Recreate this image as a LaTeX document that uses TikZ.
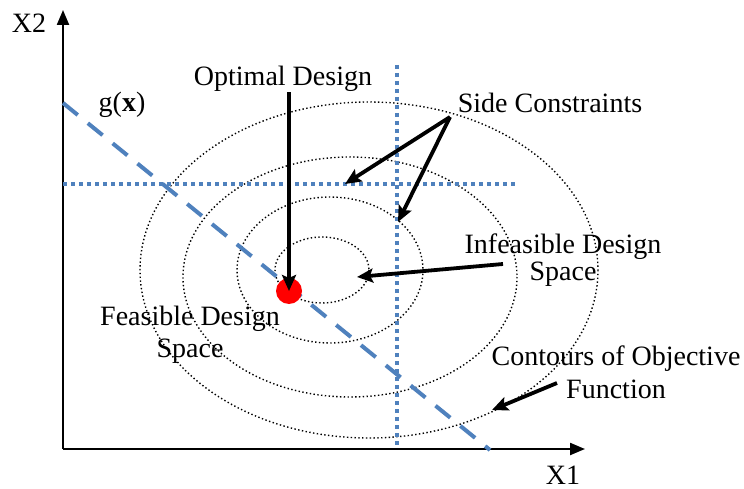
\documentclass[tikz,border=0pt]{standalone}
\usepackage{fontspec}
\setmainfont{Liberation Serif}
\usetikzlibrary{arrows.meta}
\definecolor{cblue}{RGB}{79,129,189}

\begin{document}
\begin{tikzpicture}[x=1pt,y=-1pt,
  lbl/.style={inner sep=0pt,anchor=base,align=center,font=\fontsize{28}{32}\selectfont},
  axis/.style={line width=2.2pt,-{Triangle[length=15pt,width=12pt]}},
  pointer/.style={line width=3.8pt,-{Stealth[length=16pt,width=14pt,inset=3pt]}},
  contour/.style={line width=1.4pt,dash pattern=on 1.4pt off 2.4pt},
  sidebound/.style={cblue,line width=4pt,dash pattern=on 4pt off 4pt},
  gbound/.style={cblue,line width=4pt,dash pattern=on 19pt off 13pt}]
  \useasboundingbox (0,0) rectangle (744,489);
  % osy
  \coordinate (o) at (63,449); \coordinate (ytop) at (63,10); \coordinate (xend) at (585,449);
  \draw[axis] (o)--(ytop); \draw[axis] (o)--(xend);
  \node[lbl] (x2) at (29,33) {X2};
  \node[lbl] (x1) at (563,484) {X1};
  % vrstevnice ucelove funkce
  \foreach \cx/\cy/\rx/\ry in {322/270/47/33,330/270/93/73,350/277/167/120,369/270/229/168}
    {\draw[contour] (\cx,\cy) ellipse [x radius=\rx,y radius=\ry];}
  % omezeni
  \coordinate (g1) at (63,103); \coordinate (g2) at (490,450);
  \draw[gbound] (g1)--(g2);
  \coordinate (h1) at (63,184); \coordinate (h2) at (517,184);
  \coordinate (v1) at (397,65); \coordinate (v2) at (397,447);
  \draw[sidebound] (h1)--(h2); \draw[sidebound] (v1)--(v2);
  \node[circle,fill=red,minimum size=26pt,inner sep=0pt] (dot) at (289,291) {};
  % popisky (u viceradkovych je base na poslednim radku)
  \node[lbl] (gx) at (122,112) {g(\textbf{x})};
  \node[lbl] (optimal) at (283,86) {Optimal Design};
  \node[lbl] (side) at (550,113) {Side Constraints};
  \node[lbl] (infeas) at (563,280) {Infeasible Design\\[-5pt]Space};
  \node[lbl] (feas) at (190,357) {Feasible Design\\Space};
  \node[lbl] (contours) at (616,398) {Contours of Objective\\[1pt]Function};
  % sipky
  \coordinate (sc) at (450,117); \coordinate (sch) at (345,184); \coordinate (scv) at (398,222);
  \coordinate (inf) at (503,264); \coordinate (infc) at (357,277);
  \coordinate (ct) at (557,383); \coordinate (ctc) at (492,410);
  \draw[pointer] (optimal.south -| dot)--(dot.center);
  \draw[pointer] (sc)--(sch); \draw[pointer] (sc)--(scv);
  \draw[pointer] (inf)--(infc);
  \draw[pointer] (ct)--(ctc);
\end{tikzpicture}
\end{document}
